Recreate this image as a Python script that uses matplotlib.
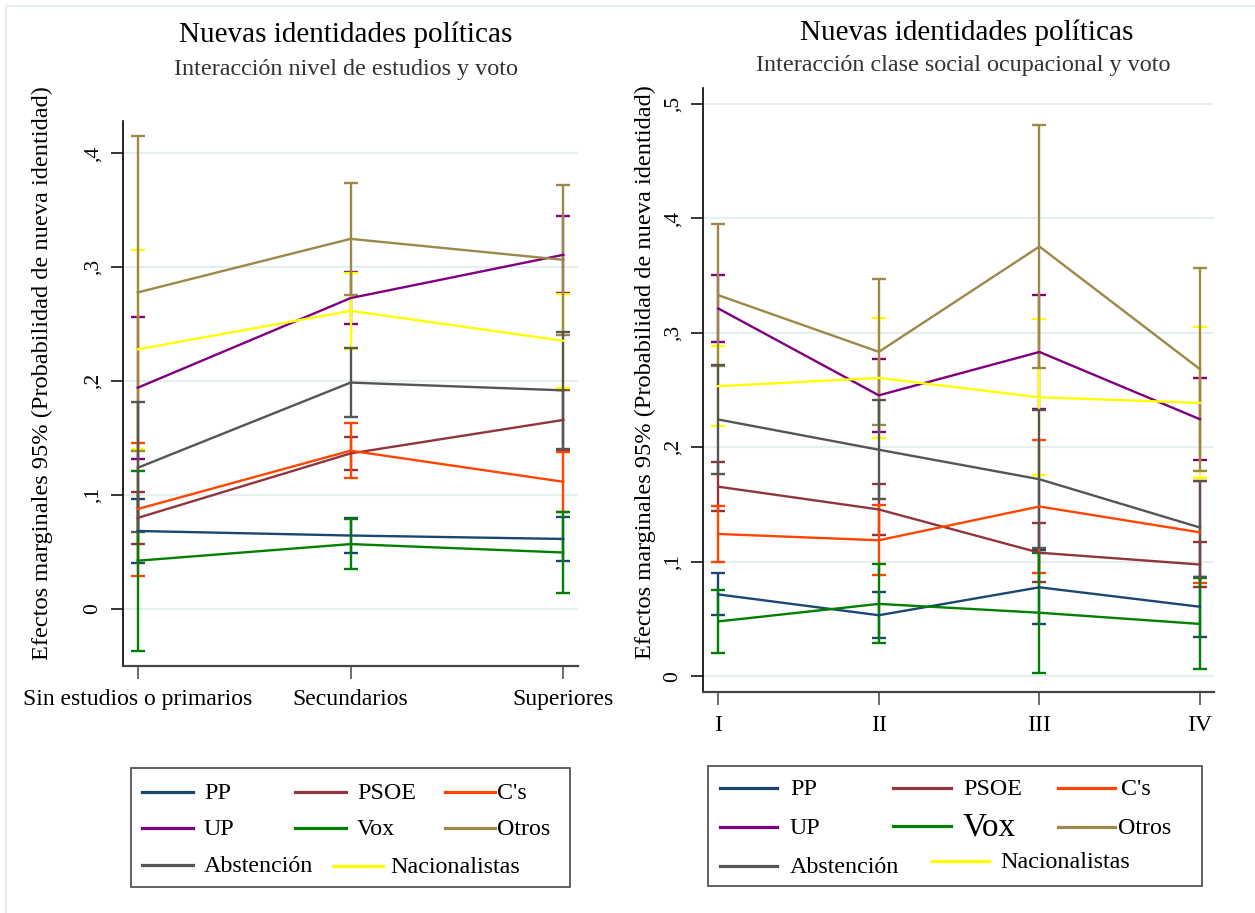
import matplotlib.pyplot as plt
from matplotlib.lines import Line2D
from matplotlib.patches import Rectangle


plt.rcParams['font.family'] = ['Liberation Serif', 'DejaVu Serif']

W, H = 1255, 913

parties = ['PP', 'PSOE', "C's", 'UP', 'Vox', 'Otros', 'Abstención', 'Nacionalistas']
colors = ['#1a476f', '#90353b', '#ff4500', '#800080', '#008000', '#9c8847', '#555555', '#ffff00']

# Left panel: nivel de estudios
educ_labels = ['Sin estudios o primarios', 'Secundarios', 'Superiores']
educ_mean = {'PP': [0.0685, 0.0645, 0.0615],
             'PSOE': [0.080, 0.1366, 0.166],
             "C's": [0.0878, 0.139, 0.1117],
             'UP': [0.1943, 0.273, 0.311],
             'Vox': [0.0424, 0.057, 0.0496],
             'Otros': [0.278, 0.325, 0.3066],
             'Abstención': [0.124, 0.1988, 0.192],
             'Nacionalistas': [0.228, 0.2618, 0.2355]}
educ_lo = {'PP': [0.040, 0.0494, 0.0424],
           'PSOE': [0.0573, 0.122, 0.1385],
           "C's": [0.029, 0.1147, 0.0854],
           'UP': [0.132, 0.250, 0.2777],
           'Vox': [-0.0366, 0.0354, 0.0138],
           'Otros': [0.139, 0.2757, 0.2406],
           'Abstención': [0.0673, 0.1683, 0.1405],
           'Nacionalistas': [0.1405, 0.2283, 0.1943]}
educ_hi = {'PP': [0.097, 0.0796, 0.0805],
           'PSOE': [0.1025, 0.1513, 0.1923],
           "C's": [0.146, 0.163, 0.138],
           'UP': [0.256, 0.2962, 0.3448],
           'Vox': [0.1214, 0.079, 0.0854],
           'Otros': [0.4156, 0.3743, 0.3725],
           'Abstención': [0.1815, 0.2294, 0.2435],
           'Nacionalistas': [0.3155, 0.2953, 0.2766]}

# Right panel: clase social ocupacional
clase_labels = ['I', 'II', 'III', 'IV']
clase_mean = {'PP': [0.0716, 0.0534, 0.0778, 0.0608],
              'PSOE': [0.1657, 0.1458, 0.108, 0.0977],
              "C's": [0.1244, 0.1189, 0.1484, 0.1258],
              'UP': [0.3214, 0.2455, 0.2834, 0.2246],
              'Vox': [0.048, 0.0633, 0.0556, 0.0458],
              'Otros': [0.333, 0.2835, 0.3755, 0.2683],
              'Abstención': [0.2244, 0.198, 0.1722, 0.13],
              'Nacionalistas': [0.2535, 0.2607, 0.2438, 0.2389]}
clase_lo = {'PP': [0.0533, 0.0332, 0.0454, 0.0346],
            'PSOE': [0.1441, 0.1237, 0.0824, 0.0783],
            "C's": [0.1001, 0.0885, 0.0905, 0.0812],
            'UP': [0.2922, 0.2137, 0.234, 0.1889],
            'Vox': [0.0206, 0.0288, 0.0031, 0.0061],
            'Otros': [0.2713, 0.220, 0.2695, 0.1796],
            'Abstención': [0.177, 0.1549, 0.1118, 0.087],
            'Nacionalistas': [0.2183, 0.2079, 0.1758, 0.1729]}
clase_hi = {'PP': [0.090, 0.0736, 0.1103, 0.087],
            'PSOE': [0.1874, 0.168, 0.1336, 0.117],
            "C's": [0.1487, 0.1493, 0.2064, 0.1704],
            'UP': [0.3505, 0.2774, 0.3328, 0.2603],
            'Vox': [0.0754, 0.0978, 0.108, 0.0856],
            'Otros': [0.3948, 0.347, 0.4815, 0.3569],
            'Abstención': [0.2718, 0.2413, 0.2326, 0.1708],
            'Nacionalistas': [0.2887, 0.3135, 0.3118, 0.3048]}

educ_yticks = [0, 0.1, 0.2, 0.3, 0.4]
educ_yticklabels = ['0', ',1', ',2', ',3', ',4']
clase_yticks = [0, 0.1, 0.2, 0.3, 0.4, 0.5]
clase_yticklabels = ['0', ',1', ',2', ',3', ',4', ',5']

# order the CIs get drawn in (later ones on top)
ci_order = ['PP', 'PSOE', "C's", 'UP', 'Vox', 'Nacionalistas', 'Otros', 'Abstención']

# legend slots in pixels: handle start, handle end, text x, y  (stata puts them a bit unevenly)
left_slots = {'PP': (142, 193, 204, 792), 'PSOE': (295, 346, 357, 792), "C's": (445, 495, 497, 792),
              'UP': (142, 193, 204, 828), 'Vox': (295, 346, 357, 828), 'Otros': (445, 495, 497, 828),
              'Abstención': (142, 193, 204, 865), 'Nacionalistas': (333, 383, 390, 866)}
right_slots = {'PP': (720, 777, 790, 788), 'PSOE': (893, 951, 963, 788), "C's": (1058, 1115, 1121, 788),
               'UP': (720, 777, 790, 827), 'Vox': (893, 951, 963, 826), 'Otros': (1058, 1115, 1118, 827),
               'Abstención': (720, 777, 790, 866), 'Nacionalistas': (932, 989, 1000, 861)}


def draw_panel(ax, labels, mean, lo, hi, yticks, yticklabels):
    x = list(range(1, len(labels) + 1))
    col = dict(zip(parties, colors))
    for p in ci_order:
        err = [[m - l for m, l in zip(mean[p], lo[p])],
               [h - m for m, h in zip(mean[p], hi[p])]]
        ax.errorbar(x, mean[p], yerr=err, fmt='none', ecolor=col[p],
                    elinewidth=1.7, capsize=4.8, capthick=1.7, zorder=2)
    for p in parties:
        ax.plot(x, mean[p], color=col[p], lw=1.7, zorder=3)

    ax.set_xticks(x)
    ax.set_xticklabels(labels, fontsize=17)
    ax.set_yticks(yticks)
    ax.set_yticklabels(yticklabels, fontsize=15.5, rotation=90, va='center')
    ax.grid(axis='y', color='#e6eef1', lw=1.6, zorder=0)
    ax.set_axisbelow(True)
    for s in ['top', 'right']:
        ax.spines[s].set_visible(False)
    ax.spines['left'].set_linewidth(1.2)
    ax.spines['bottom'].set_linewidth(1.6)
    ax.spines['bottom'].set_color('#444444')
    ax.tick_params(axis='y', length=9, width=1.1, pad=6)
    ax.tick_params(axis='x', length=9, width=1.1, pad=8, color='#444444')


def draw_legend(fig, box, slots, big=None):
    x0, y0, x1, y1 = box
    fig.add_artist(Rectangle((x0 / W, 1 - y1 / H), (x1 - x0) / W, (y1 - y0) / H,
                             fill=False, edgecolor='#555555', lw=1.3, transform=fig.transFigure))
    col = dict(zip(parties, colors))
    for p in parties:
        hx0, hx1, tx, y = slots[p]
        fig.add_artist(Line2D([hx0 / W, hx1 / W], [1 - y / H, 1 - y / H], color=col[p], lw=2.3))
        size = 17.3
        if big and p in big:
            size = big[p]
        fig.text(tx / W, 1 - (y + 1) / H, p, ha='left', va='center', fontsize=size)


fig = plt.figure(figsize=(W / 100, H / 100), dpi=100)

# left panel
ax1 = fig.add_axes([123.3 / W, 1 - 665.7 / H, (578 - 123.3) / W, (665.7 - 121) / H])
draw_panel(ax1, educ_labels, educ_mean, educ_lo, educ_hi, educ_yticks, educ_yticklabels)
ax1.set_xlim(0.932, 3.069)
ax1.set_ylim(-0.0498, 0.4285)

# right panel
ax2 = fig.add_axes([703.3 / W, 1 - 691.7 / H, (1214 - 703.3) / W, (691.7 - 88) / H])
draw_panel(ax2, clase_labels, clase_mean, clase_lo, clase_hi, clase_yticks, clase_yticklabels)
ax2.set_xlim(0.907, 4.087)
ax2.set_ylim(-0.0134, 0.514)

# titles
fig.text(346 / W, 1 - 41.7 / H, 'Nuevas identidades políticas', ha='center', va='baseline', fontsize=21)
fig.text(346 / W, 1 - 75 / H, 'Interacción nivel de estudios y voto', ha='center', va='baseline',
         fontsize=17.4, color='#333333')
fig.text(967 / W, 1 - 40 / H, 'Nuevas identidades políticas', ha='center', va='baseline', fontsize=21)
fig.text(963 / W, 1 - 70.7 / H, 'Interacción clase social ocupacional y voto', ha='center', va='baseline',
         fontsize=17.4, color='#333333')

ylab = 'Efectos marginales 95% (Probabilidad de nueva identidad)'
fig.text(42 / W, 1 - 373 / H, ylab, rotation=90, ha='center', va='center', fontsize=17.6)
fig.text(645 / W, 1 - 372 / H, ylab, rotation=90, ha='center', va='center', fontsize=17.6)

# legends
draw_legend(fig, (131, 768, 570, 887), left_slots)
draw_legend(fig, (708, 766, 1202, 886), right_slots, big={'Vox': 24})

# thin frame of the graph region
fig.add_artist(Line2D([6 / W, 1], [1 - 6 / H, 1 - 6 / H], color='#e6eef1', lw=1.5))
fig.add_artist(Line2D([6 / W, 6 / W], [0, 1 - 6 / H], color='#e6eef1', lw=1.5))

fig.savefig('out.png', dpi=100)
